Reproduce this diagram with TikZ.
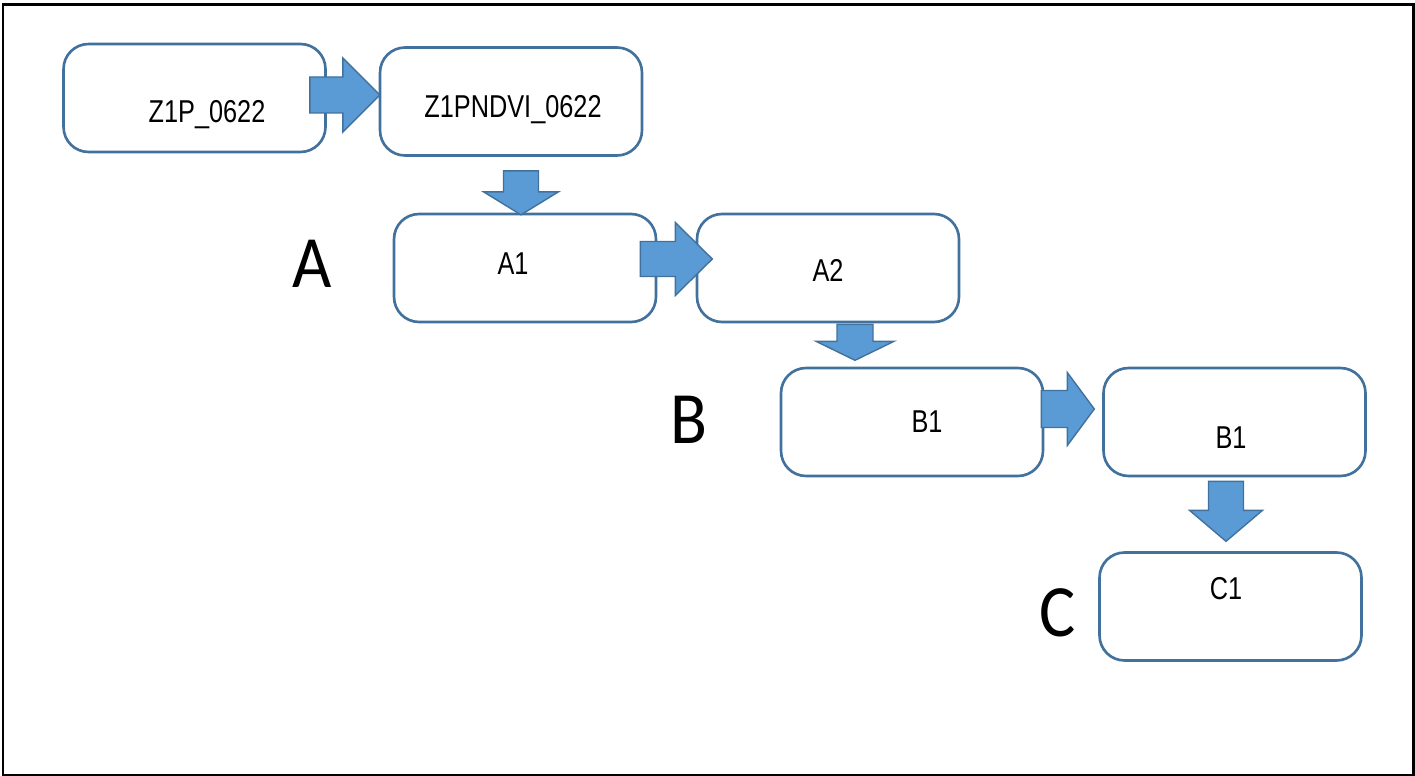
\documentclass[tikz,border=0pt]{standalone}
\usepackage{fontspec}
\newfontfamily\boxfont[FakeStretch=0.8]{Liberation Sans}
\newfontfamily\tagfont[FakeStretch=0.92]{Carlito}
\usetikzlibrary{calc}
\definecolor{boxline}{RGB}{65,113,156}
\definecolor{arrowblue}{RGB}{91,155,213}

\begin{document}
\begin{tikzpicture}[x=0.02cm, y=-0.02cm]
  \tikzset{
    box/.style={draw=boxline, line width=1.5pt, rounded corners=0.5cm, fill=white,
      minimum width=5.24cm, minimum height=2.16cm, inner sep=0pt},
    boxtext/.style={anchor=base, inner sep=0pt, font=\boxfont\fontsize{18}{20}\selectfont},
    tag/.style={anchor=base, inner sep=0pt, font=\tagfont\fontsize{42}{44}\selectfont},
    % block arrow along +x: #1 = length, #2 = head length,
    % #3 = shaft half width, #4 = head half width
    pics/blockarrow/.style n args={4}{
      code={
        \draw[fill=arrowblue, draw=boxline, line width=0.8pt]
          (0,-#3) -- ({#1-#2},-#3) -- ({#1-#2},-#4) -- (#1,0)
          -- ({#1-#2},#4) -- ({#1-#2},#3) -- (0,#3) -- cycle;
      }
    }
  }
  \useasboundingbox (0,0) rectangle (1415,776);
  \draw[line width=1.7pt] (3,4.5) rectangle (1413,775);

  % boxes
  \foreach \name/\cx/\cy in {
    z1p/194.5/98,
    ndvi/511/101.5,
    a1/525/268,
    a2/828/268,
    b1/912/422,
    b2/1234.5/422,
    c1/1230.5/606.5
  }{
    \node[box] (\name) at (\cx,\cy) {};
  }

  % box texts
  \node[boxtext] (z1p-t)  at (207,123)    {Z1P\_0622};
  \node[boxtext] (ndvi-t) at (513,118)    {Z1PNDVI\_0622};
  \node[boxtext] (a1-t)   at (513,274.5)  {A1};
  \node[boxtext] (a2-t)   at (828,281.5)  {A2};
  \node[boxtext] (b1-t)   at (927,432)    {B1};
  \node[boxtext] (b2-t)   at (1231,448.5) {B1};
  \node[boxtext] (c1-t)   at (1226,599)   {C1};

  % group letters
  \node[tag] (tagA) at (312.5,288) {A};
  \node[tag] (tagB) at (689,443)   {B};
  \node[tag] (tagC) at (1058,636)  {C};

  % block arrows
  \pic at ($(z1p.east)+(-17,-3)$) {blockarrow={70}{37}{18}{37}};
  \pic[rotate=-90] at ($(ndvi.south)+(10,14)$) {blockarrow={44}{23}{17.5}{37.5}};
  \pic at ($(a1.east)+(-17,-9)$) {blockarrow={72}{37}{17.5}{36.5}};
  \pic[rotate=-90] at ($(a2.south)+(27,1)$) {blockarrow={36}{19}{18}{39}};
  \pic at ($(b1.east)+(-3,-13)$) {blockarrow={53}{27}{18.5}{36.5}};
  \pic[rotate=-90] at ($(b2.south)+(-8.5,4)$) {blockarrow={60}{31}{17.5}{36.5}};
\end{tikzpicture}
\end{document}
